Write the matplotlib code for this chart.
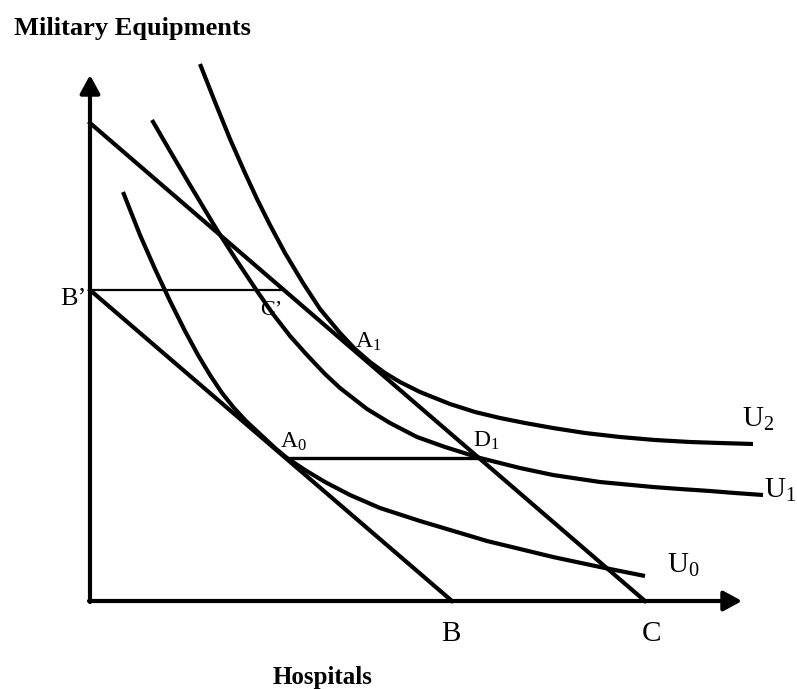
import numpy as np
import matplotlib
matplotlib.use('Agg')
import matplotlib.pyplot as plt

plt.rcParams['font.family'] = ['Liberation Serif', 'DejaVu Serif']
plt.rcParams['mathtext.fontset'] = 'custom'
plt.rcParams['mathtext.rm'] = 'Liberation Serif'
plt.rcParams['mathtext.it'] = 'Liberation Serif:italic'

# indifference curves (hospitals, military equipments)
u0_x = [33, 50, 65, 80, 95, 108, 120, 132, 144, 156, 170, 185, 197, 215, 235, 260, 290, 330, 397, 463, 510, 555]
u0_y = [409, 366, 332, 300, 270, 246, 226, 208, 193, 180, 167, 153, 143, 131, 119, 106, 93, 80, 60, 44, 34, 25]

u1_x = [62, 80, 100, 127, 145, 167, 183, 200, 217, 235, 250, 277, 300, 327, 355, 390, 430, 463, 510, 563, 590, 620, 645, 673]
u1_y = [481, 450, 416, 371, 343, 310, 287, 265, 246, 227, 213, 192, 178, 164, 154, 143, 133, 126, 119, 114, 112, 110, 108, 106]

u2_x = [110, 125, 140, 155, 167, 180, 195, 213, 230, 250, 265, 280, 295, 310, 330, 360, 385, 410, 435, 463, 495, 530, 565, 600, 630, 663]
u2_y = [537, 499, 462, 428, 402, 376, 348, 318, 292, 268, 252, 239, 228, 219, 209, 197, 189, 183, 178, 173, 168, 164, 161, 159, 158, 157]

# budget lines: intercepts
bb_x = [0, 362]      # B' -> B
bb_y = [311, 0]
cc_x = [0, 555]      # upper line -> C
cc_y = [478, 0]

# horizontal connectors
bc_x = [0, 193]      # B' -> C'
bc_y = [311, 311]
ad_x = [196, 390]    # A0 -> D1
ad_y = [143, 143]

x_end = 652
y_end = 526

fig = plt.figure(figsize=(7.97, 6.89), dpi=100)
ax = fig.add_axes([0, 0, 1, 1])
ax.set_xlim(-90, 707)
ax.set_ylim(-88, 601)
ax.axis('off')

lw = 3.0
for xs, ys in [(u0_x, u0_y), (u1_x, u1_y), (u2_x, u2_y)]:
    ax.plot(xs, ys, color='black', lw=lw, solid_joinstyle='round', solid_capstyle='butt')
ax.plot(bb_x, bb_y, color='black', lw=lw)
ax.plot(cc_x, cc_y, color='black', lw=lw)
ax.plot(bc_x, bc_y, color='black', lw=1.6)
ax.plot(ad_x, ad_y, color='black', lw=2.4)

# axes with arrows
arrow = dict(arrowstyle='-|>,head_length=0.55,head_width=0.3', color='black',
             lw=3.0, shrinkA=0, shrinkB=0, mutation_scale=20)
ax.annotate('', xy=(0, y_end), xytext=(0, -1), arrowprops=arrow)
ax.annotate('', xy=(x_end, 0), xytext=(-1, 0), arrowprops=arrow)

# labels
ax.text(-76, 566, 'Military Equipments', fontsize=19, fontweight='bold', va='baseline', ha='left')
ax.text(233, -83, 'Hospitals', fontsize=18, fontweight='bold', va='baseline', ha='center')
ax.text(361, -40, 'B', fontsize=21, va='baseline', ha='center')
ax.text(562, -40, 'C', fontsize=21, va='baseline', ha='center')
ax.text(-30, 296, 'B\u2019', fontsize=19, va='baseline', ha='left')
ax.text(170, 286, 'C\u2019', fontsize=16, va='baseline', ha='left')
ax.text(265, 253, r'$\mathrm{A}_1$', fontsize=17, va='baseline', ha='left')
ax.text(190, 153, r'$\mathrm{A}_0$', fontsize=17, va='baseline', ha='left')
ax.text(383, 154, r'$\mathrm{D}_1$', fontsize=17, va='baseline', ha='left')
ax.text(652, 174, r'$\mathrm{U}_2$', fontsize=21, va='baseline', ha='left')
ax.text(674, 103, r'$\mathrm{U}_1$', fontsize=21, va='baseline', ha='left')
ax.text(577, 28, r'$\mathrm{U}_0$', fontsize=21, va='baseline', ha='left')

fig.savefig('out.png', dpi=100)
